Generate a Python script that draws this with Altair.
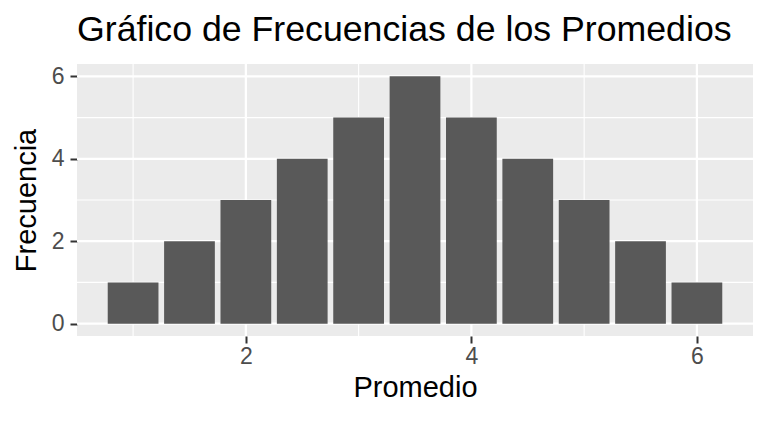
import altair as alt
import pandas as pd

promedio = [1.0, 1.5, 2.0, 2.5, 3.0, 3.5, 4.0, 4.5, 5.0, 5.5, 6.0]
frecuencia = [1, 2, 3, 4, 5, 6, 5, 4, 3, 2, 1]
x_major = [2, 4, 6]
x_minor = [1, 3, 5]
y_major = [0, 2, 4, 6]
y_minor = [1, 3, 5]

half = 0.225
bars = pd.DataFrame({"promedio": promedio, "frecuencia": frecuencia})
bars["x0"] = bars["promedio"] - half
bars["x1"] = bars["promedio"] + half
bars["y0"] = 0

xs = alt.Scale(domain=[0.5025, 6.4975], nice=False, zero=False)
ys = alt.Scale(domain=[-0.3, 6.3], nice=False, zero=False)

xaxis = alt.Axis(values=x_major, grid=False, domain=False, tickColor="#333333",
                 tickWidth=2, tickSize=7, labelColor="#4D4D4D", labelFontSize=23,
                 labelFont="Liberation Sans", labelPadding=2, title="Promedio",
                 titleFont="Liberation Sans", titleFontSize=29, titleFontWeight="normal",
                 titleColor="black", titlePadding=5, format="d")
yaxis = alt.Axis(values=y_major, grid=False, domain=False, tickColor="#333333",
                 tickWidth=2, tickSize=7, labelColor="#4D4D4D", labelFontSize=23,
                 labelFont="Liberation Sans", labelPadding=6, title="Frecuencia",
                 titleFont="Liberation Sans", titleFontSize=29, titleFontWeight="normal",
                 titleColor="black", titlePadding=10, format="d")

xminor = alt.Chart(pd.DataFrame({"v": x_minor})).mark_rule(color="white", strokeWidth=1.1).encode(
    x=alt.X("v:Q", scale=xs, axis=xaxis))
yminor = alt.Chart(pd.DataFrame({"v": y_minor})).mark_rule(color="white", strokeWidth=1.1).encode(
    y=alt.Y("v:Q", scale=ys, axis=yaxis))
xmajor = alt.Chart(pd.DataFrame({"v": x_major})).mark_rule(color="white", strokeWidth=2.2).encode(
    x=alt.X("v:Q", scale=xs, axis=xaxis))
ymajor = alt.Chart(pd.DataFrame({"v": y_major})).mark_rule(color="white", strokeWidth=2.2).encode(
    y=alt.Y("v:Q", scale=ys, axis=yaxis))

rects = alt.Chart(bars).mark_rect(color="#595959").encode(
    x=alt.X("x0:Q", scale=xs, axis=xaxis),
    x2="x1:Q",
    y=alt.Y("y0:Q", scale=ys, axis=yaxis),
    y2="frecuencia:Q",
)

chart = alt.layer(xminor, yminor, xmajor, ymajor, rects).properties(
    width=676, height=272,
    autosize=alt.AutoSizeParams(type="none"),
    padding={"left": 69, "top": 56, "right": 7, "bottom": 70},
    background="white",
    title=alt.TitleParams("Gráfico de Frecuencias de los Promedios", anchor="start",
                          font="Liberation Sans", fontSize=35.7, fontWeight="normal",
                          color="black", offset=14, frame="group"),
).configure_view(fill="#EBEBEB", stroke="transparent", strokeWidth=0)

chart.save("out.html", embed_options={"renderer": "svg", "actions": False})
